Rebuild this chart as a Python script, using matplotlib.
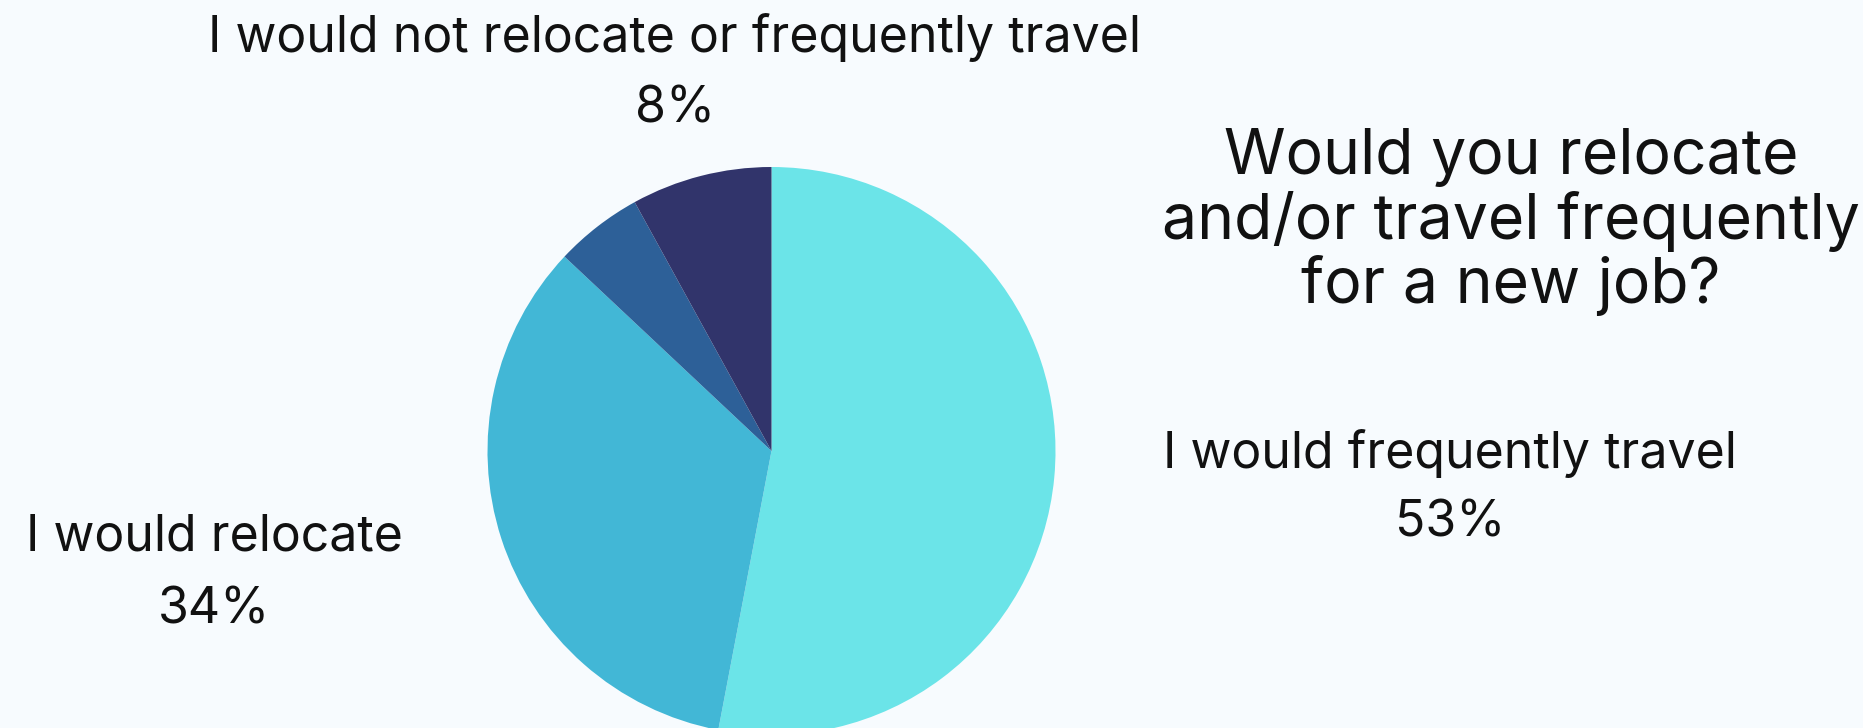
import matplotlib
matplotlib.use('Agg')
import matplotlib.pyplot as plt

# Survey answers, clockwise from 12 o'clock
answers = ['I would frequently travel', 'I would relocate', 'Other', 'I would not relocate or frequently travel']
shares = [53, 34, 5, 8]
colors = ['#6BE4E8', '#42B7D6', '#2D6098', '#31346B']
show_label = [True, True, False, True]

title = 'Would you relocate\nand/or travel frequently\nfor a new job?'

W, H = 1863, 728
BG = '#F7FBFE'

plt.rcParams['font.family'] = ['Inter', 'DejaVu Sans']

fig = plt.figure(figsize=(W / 100, H / 100), dpi=100, facecolor=BG)
ax = fig.add_axes([0, 0, 1, 1])
ax.set_facecolor(BG)

cx, cy, r = 771.5, H - 451, 284
ax.pie(shares, colors=colors, startangle=90, counterclock=False,
       center=(cx, cy), radius=r, frame=True,
       wedgeprops=dict(linewidth=0))
ax.set_xlim(0, W)
ax.set_ylim(0, H)
ax.set_aspect('equal')
ax.axis('off')

# label positions in pixels (name line, percentage line)
label_pos = {
    0: ((1450, 454), (1450, 523)),
    1: ((214, 537), (214, 610)),
    3: ((675, 38), (675, 109)),
}
for i, (name, val) in enumerate(zip(answers, shares)):
    if not show_label[i]:
        continue
    (nx, ny), (px, py) = label_pos[i]
    ax.text(nx, H - ny, name, fontsize=36, ha='center', va='center', color='#111111')
    ax.text(px, H - py, f'{val}%', fontsize=36, ha='center', va='center', color='#111111')

ax.text(1511, H - 222, title, fontsize=45, ha='center', va='center',
        color='#111111', linespacing=1.07)

fig.savefig('out.png', dpi=100, facecolor=BG)
